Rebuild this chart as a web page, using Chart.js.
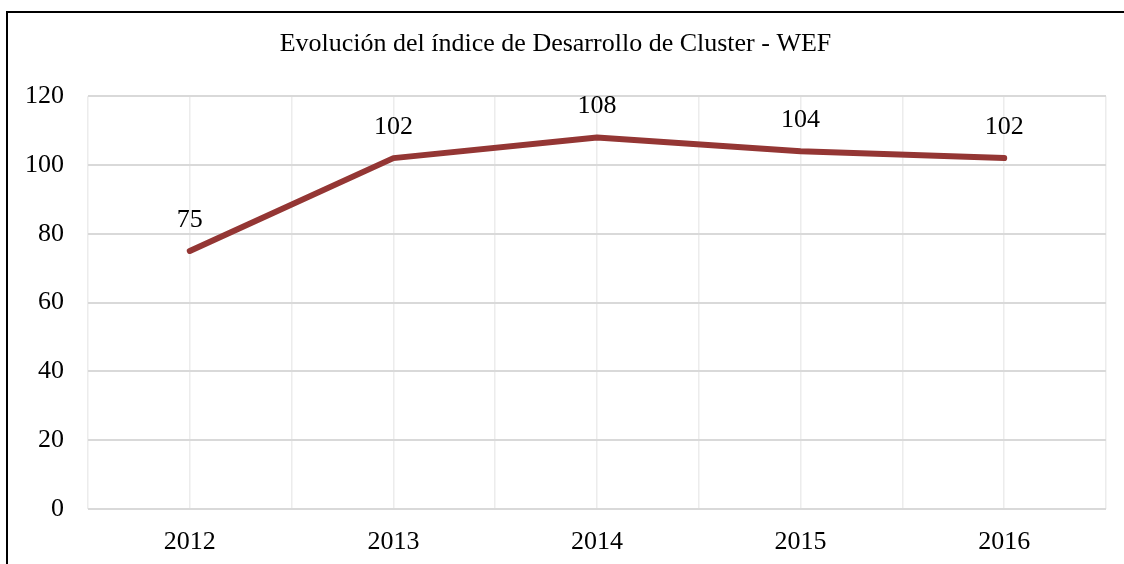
<!DOCTYPE html>
<html>
<head>
<meta charset="utf-8">
<script src="https://cdn.jsdelivr.net/npm/chart.js@4.4.0/dist/chart.umd.min.js"></script>
<style>
  body { margin: 0; background: #fff; }
  #wrap { position: relative; width: 1124px; height: 564px; overflow: hidden; }
  #frame { position: absolute; left: 6px; top: 11px; width: 1200px; height: 700px; border: 2px solid #000; }
  canvas { position: absolute; left: 0; top: 0; }
</style>
</head>
<body>
<div id="wrap">
  <div id="frame"></div>
  <canvas id="grafico" width="1124" height="564"></canvas>
</div>
<script>
const years = [2012, 2013, 2014, 2015, 2016];
const indice = [75, 102, 108, 104, 102];
const yTicks = [0, 20, 40, 60, 80, 100, 120];
const titulo = 'Evolución del índice de Desarrollo de Cluster - WEF';

const serif = "'Liberation Serif', 'Times New Roman', serif";

// etiquetas de valor sobre cada punto
const etiquetas = {
    id: 'etiquetas',
    afterDatasetsDraw(chart) {
        const ctx = chart.ctx;
        const meta = chart.getDatasetMeta(0);
        ctx.save();
        ctx.font = '26px ' + serif;
        ctx.fillStyle = '#000';
        ctx.textAlign = 'center';
        ctx.textBaseline = 'middle';
        meta.data.forEach((p, i) => {
            ctx.fillText(String(indice[i]), p.x, p.y - 31);
        });
        ctx.restore();
    }
};

const ctx = document.querySelector('#grafico');
new Chart(ctx, {
    type: 'line',
    data: {
        datasets: [{
            data: years.map((y, i) => ({ x: y, y: indice[i] })),
            borderColor: '#943634',
            borderWidth: 6,
            borderCapStyle: 'round',
            borderJoinStyle: 'round',
            pointRadius: 0,
            tension: 0
        }]
    },
    options: {
        responsive: false,
        animation: false,
        layout: { padding: { left: 0, right: 13, top: 0, bottom: 0 } },
        plugins: {
            legend: { display: false },
            tooltip: { enabled: false },
            title: {
                display: true,
                text: titulo,
                color: '#000',
                font: { family: serif, size: 26, weight: 'normal' },
                padding: { top: 29, bottom: 36 }
            }
        },
        scales: {
            x: {
                type: 'linear',
                min: 2011.5,
                max: 2016.5,
                ticks: {
                    stepSize: 0.5,
                    color: '#000',
                    font: { family: serif, size: 26 },
                    padding: 18,
                    maxRotation: 0,
                    autoSkip: false,
                    callback: v => Number.isInteger(v) ? String(v) : ''
                },
                grid: { color: '#ececec', lineWidth: 1.5, drawTicks: false },
                border: { display: false },
                afterFit: s => { s.height = 55; }
            },
            y: {
                min: 0,
                max: 120,
                afterBuildTicks: s => { s.ticks = yTicks.map(v => ({ value: v })); },
                ticks: {
                    color: '#000',
                    font: { family: serif, size: 26 },
                    padding: 24
                },
                grid: { color: '#d9d9d9', lineWidth: 2, drawTicks: false },
                border: { display: false },
                afterFit: s => { s.width = 88; }
            }
        }
    },
    plugins: [etiquetas]
});
</script>
</body>
</html>
